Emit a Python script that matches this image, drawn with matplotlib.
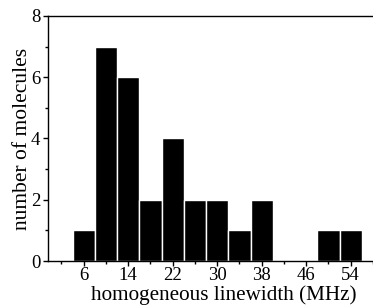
import matplotlib
matplotlib.use("Agg")
import matplotlib.pyplot as plt
from matplotlib.ticker import MultipleLocator

# histogram data: bin centres (MHz) and counts
bin_centers = [6, 10, 14, 18, 22, 26, 30, 34, 38, 42, 46, 50, 54]
counts = [1, 7, 6, 2, 4, 2, 2, 1, 2, 0, 0, 1, 1]
bin_width = 4

x_ticks = [6, 14, 22, 30, 38, 46, 54]
y_ticks = [0, 2, 4, 6, 8]

plt.rcParams["font.family"] = ["Liberation Serif", "DejaVu Serif"]

fig = plt.figure(figsize=(3.73, 3.05), dpi=100)
ax = fig.add_axes([0.129, 0.144, 0.871, 0.804])

ax.bar(bin_centers, counts, width=bin_width, color="black",
       edgecolor="white", linewidth=1.0)

ax.set_xlim(-0.4, 58.0)
ax.set_ylim(0, 8)
ax.set_xticks(x_ticks)
ax.set_yticks(y_ticks)
ax.xaxis.set_minor_locator(MultipleLocator(8, offset=2))
ax.yaxis.set_minor_locator(MultipleLocator(1))

ax.tick_params(which="major", direction="out", length=3.5, width=1,
               labelsize=13.5, pad=1)
ax.tick_params(which="minor", direction="out", length=2, width=1)
ax.tick_params(axis="y", which="major", pad=2)

ax.spines["right"].set_visible(False)
for s in ("left", "bottom", "top"):
    ax.spines[s].set_linewidth(1.0)

ax.set_xlabel("homogeneous linewidth (MHz)", fontsize=15.2)
ax.xaxis.set_label_coords(0.54, -0.098, transform=ax.transAxes)
ax.xaxis.label.set_va("top")
ax.set_ylabel("number of molecules", fontsize=15.5, labelpad=-1)

fig.savefig("out.png", dpi=100)
